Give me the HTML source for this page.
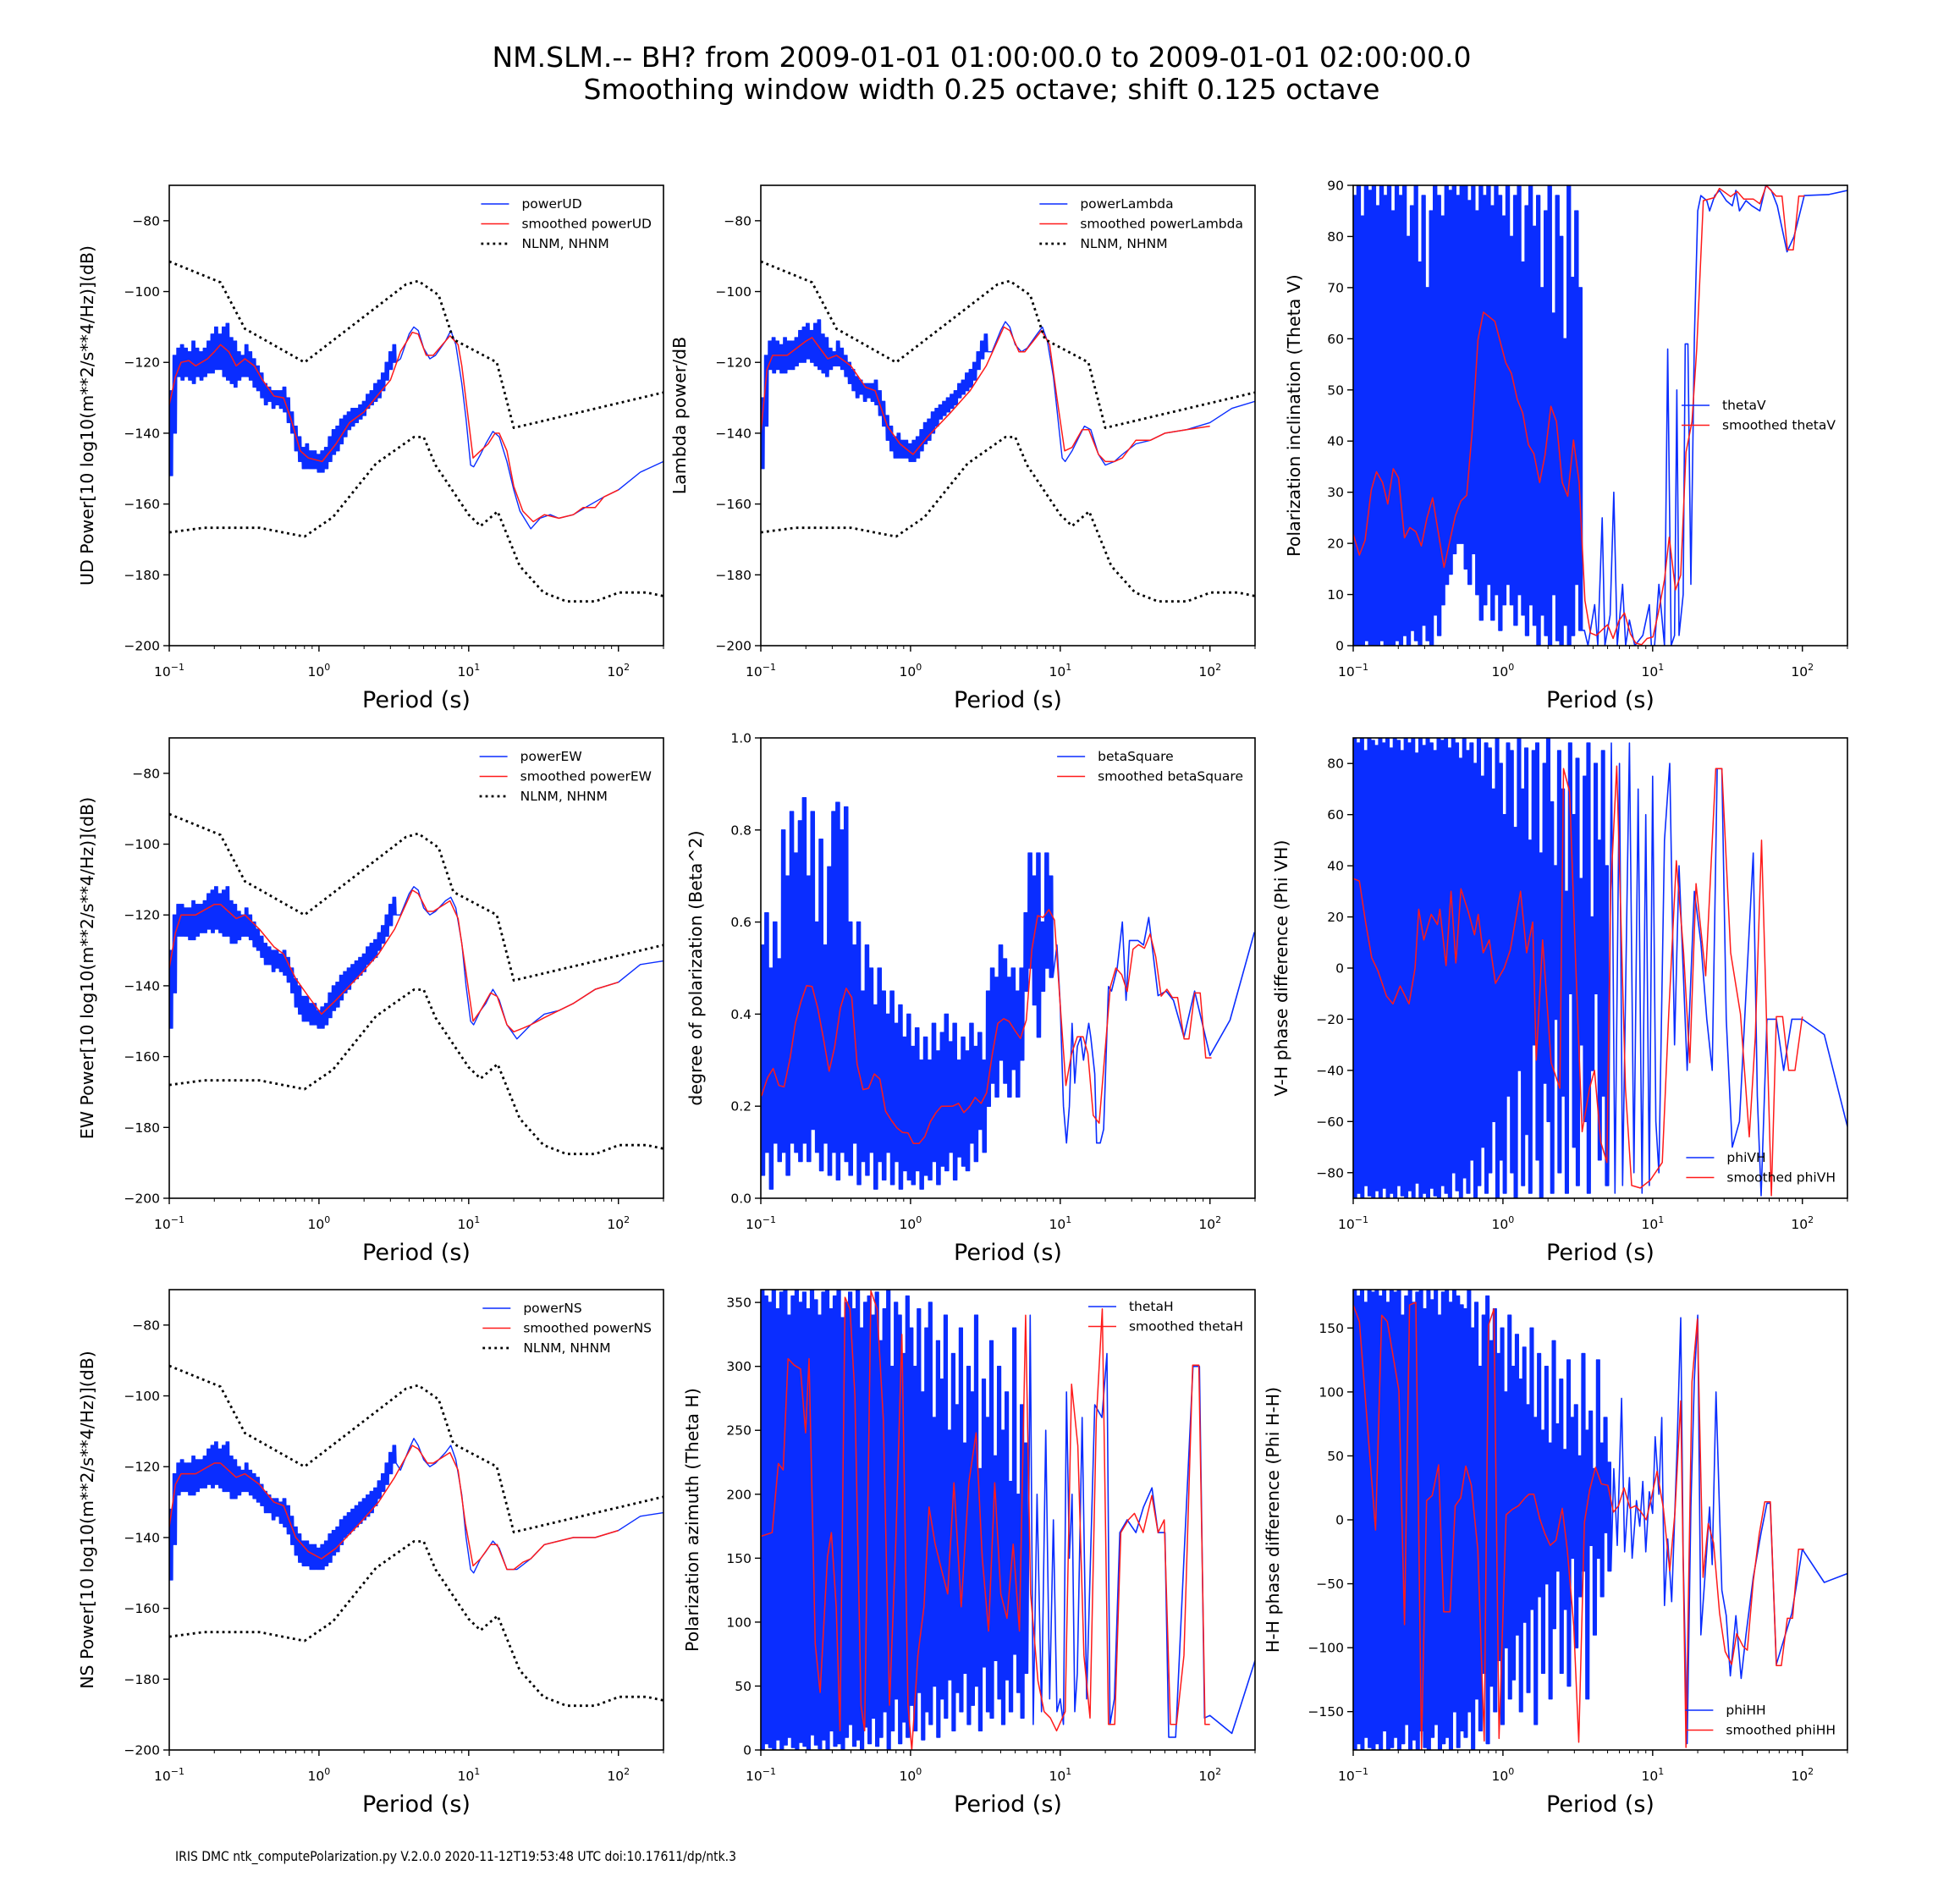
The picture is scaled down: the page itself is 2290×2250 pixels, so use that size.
<!DOCTYPE html>
<html><head><meta charset="utf-8"><title>Polarization</title>
<style>html,body{margin:0;padding:0;background:#fff;}svg{display:block;font-family:"DejaVu Sans","Liberation Sans",sans-serif;}</style>
</head><body>
<svg id="fig" xmlns="http://www.w3.org/2000/svg" width="2290" height="2250" viewBox="0 0 2290 2250">
<rect x="0" y="0" width="2290" height="2250" fill="#fff"/>
<text x="1160" y="79" font-size="33" text-anchor="middle">NM.SLM.-- BH? from 2009-01-01 01:00:00.0 to 2009-01-01 02:00:00.0</text>
<text x="1160" y="117" font-size="33" text-anchor="middle">Smoothing window width 0.25 octave; shift 0.125 octave</text>
<text x="207" y="2199" font-size="16" textLength="663" lengthAdjust="spacingAndGlyphs">IRIS DMC ntk_computePolarization.py V.2.0.0 2020-11-12T19:53:48 UTC doi:10.17611/dp/ntk.3</text>
</svg>
<script>
// ---------- noise models ----------
const nhnmP=[0.1,0.22,0.32,0.8,3.8,4.6,6.3,7.9,15.4,20,200];
const nhnmV=[-91.5,-97.4,-110.5,-120,-98,-97,-101,-113.5,-120,-138.5,-128.5];
const nlnmP=[0.1,0.17,0.4,0.8,1.24,2.4,4.3,5,6,10,12,15.6,21.9,31.6,45,70,101,154,200];
const nlnmV=[-168,-166.7,-166.7,-169.2,-163.7,-148.6,-141.1,-141.1,-149,-163,-166.2,-162.1,-177.5,-185,-187.5,-187.5,-185,-185,-186];

// ---------- UD ----------
const udSP=[0.1,0.11,0.12,0.135,0.15,0.18,0.2,0.22,0.25,0.28,0.32,0.37,0.42,0.5,0.58,0.65,0.75,0.85,1.05,1.3,1.6,2,2.5,3,3.5,4.2,4.6,5.2,5.8,7.5,8.5,9,10.7,12,13.5,15,16,18,20,23,27,32,40,50,58,70,80,100];
const udSV=[-132,-124,-120,-119.5,-121,-119,-117,-115,-117,-121,-119,-121,-125,-129.5,-130,-136,-145,-147,-148,-143,-137,-134,-129,-125,-117,-111.5,-112,-118,-118,-112.5,-115,-121,-147,-145,-143,-140,-140,-145,-155,-162,-165,-163,-164,-163,-161,-161,-158,-156];
const udHi=[-128,-118,-116,-115,-116,-117,-114,-116,-117,-116,-114,-112,-110,-112,-110,-109,-113,-114,-117,-118,-115,-117,-119,-121,-123,-126,-127,-128,-128,-128,-127,-130,-134,-138,-141,-144,-143,-145,-145,-146,-145,-144,-141,-139,-138,-136,-135,-134,-133,-133,-132,-131,-129,-128,-126,-125,-123,-120,-117,-115];
const udLo=[-152,-140,-124,-125,-124,-125,-126,-124,-125,-124,-123,-123,-122,-122,-124,-125,-126,-127,-125,-124,-124,-125,-127,-128,-130,-132,-131,-133,-132,-133,-134,-137,-140,-145,-148,-150,-150,-150,-150,-151,-151,-150,-148,-146,-145,-143,-141,-139,-138,-137,-136,-135,-133,-132,-131,-130,-128,-125,-122,-120];
const udTP=[3.5,4.0,4.3,4.6,5.0,5.5,6,7,7.6,8.2,9,9.6,10.3,10.8,12,13,14.5,16,18,20,22,26,30,35,40,50,60,80,100,140,200];
const udTV=[-119,-112,-110,-111,-116,-119,-118,-114,-111,-115,-126,-136,-149,-149.5,-146,-143,-139.5,-141,-148,-156,-162,-167,-164,-163,-164,-163,-161,-158,-156,-151,-148];

// ---------- shared smoothed period grid for Lambda / EW / NS ----------
const psP=[0.1,0.11,0.12,0.15,0.2,0.22,0.28,0.32,0.4,0.5,0.58,0.7,0.85,1.04,1.3,1.87,2.5,3.2,4.2,4.6,5.3,5.8,7.5,8.5,9.5,10.7,12,14,15.5,18,20,23,26,32,40,50,70,100];
// Lambda
const lamSV=[-140,-122,-118,-118,-114,-113,-119,-118,-121,-127,-128,-138,-143,-146,-141,-134,-128,-121,-110,-111,-117,-117,-111,-115,-130,-145,-144,-139,-139,-146,-148,-148,-147,-142,-142,-140,-139,-138];
const lamHi=[-130,-118,-114,-113,-114,-115,-113,-114,-114,-113,-111,-110,-109,-111,-109,-108,-112,-113,-116,-117,-114,-116,-118,-120,-122,-124,-125,-126,-126,-126,-125,-128,-131,-135,-138,-141,-140,-142,-142,-143,-142,-141,-139,-137,-136,-134,-133,-132,-131,-130,-129,-128,-126,-125,-123,-122,-120,-117,-114,-112];
const lamLo=[-150,-138,-122,-123,-122,-123,-123,-122,-122,-121,-120,-120,-119,-120,-121,-122,-123,-124,-122,-121,-121,-122,-124,-126,-128,-130,-129,-131,-130,-131,-132,-135,-138,-142,-145,-147,-147,-147,-147,-148,-148,-147,-145,-143,-142,-140,-138,-136,-135,-134,-133,-132,-130,-129,-128,-127,-125,-122,-119,-117];
const lamTP=[3.5,4.0,4.3,4.6,5.0,5.5,6,7,7.6,8.2,9,9.6,10.3,10.8,12,13,14.5,16,18,20,23,26,32,40,50,70,100,140,200];
const lamTV=[-117,-111,-108.5,-110,-115,-117,-116,-112,-110,-114,-124,-135,-147,-148,-145,-142,-138,-139,-146,-149,-148,-146,-143,-142,-140,-139,-137,-133,-131];
// EW
const ewSV=[-135,-125,-120,-120,-117,-117,-121,-120,-124,-129,-131,-138,-143,-148,-144,-137,-131,-124,-113,-114,-119,-119,-116,-121,-135,-150,-147,-142,-143,-151,-153,-152,-151,-149,-147,-145,-141,-139];
const ewHi=[-130,-120,-117,-117,-118,-118,-116,-117,-117,-116,-114,-113,-112,-114,-113,-112,-116,-117,-119,-120,-118,-120,-122,-124,-126,-128,-129,-130,-130,-131,-130,-132,-135,-138,-140,-143,-143,-145,-145,-147,-146,-145,-142,-140,-139,-137,-136,-135,-134,-133,-132,-131,-129,-128,-127,-125,-123,-120,-117,-115];
const ewLo=[-152,-142,-126,-126,-126,-127,-127,-126,-125,-125,-124,-125,-124,-125,-126,-126,-128,-128,-127,-126,-126,-127,-129,-130,-132,-134,-134,-136,-135,-136,-137,-139,-142,-146,-148,-150,-150,-151,-151,-152,-152,-151,-149,-147,-146,-144,-142,-141,-139,-138,-137,-136,-134,-133,-132,-130,-128,-126,-123,-120];
const ewTP=[3.5,4.0,4.3,4.6,5.0,5.5,6,7,7.6,8.2,9,9.6,10.3,10.8,12,13,14.5,16,18,21,26,32,40,50,70,100,140,200];
const ewTV=[-120,-114,-112,-113,-118,-120,-119,-116,-115,-118,-128,-140,-150,-151,-147,-145,-141,-144,-151,-155,-151,-148,-147,-145,-141,-139,-134,-133];
// NS
const nsSV=[-137,-125,-122,-122,-119,-119,-123,-122,-125,-130,-131,-140,-144,-146,-143,-136,-130,-123,-114,-115,-119,-119,-116,-121,-136,-148,-146,-142,-142,-149,-149,-147,-146,-142,-141,-140,-140,-138];
const nsHi=[-132,-122,-119,-118,-119,-119,-117,-118,-118,-117,-115,-114,-113,-115,-114,-113,-117,-118,-120,-121,-119,-121,-122,-123,-125,-127,-128,-129,-129,-130,-129,-131,-134,-137,-139,-141,-141,-142,-142,-143,-142,-141,-139,-138,-137,-135,-134,-133,-132,-131,-130,-129,-128,-127,-126,-124,-122,-119,-116,-114];
const nsLo=[-152,-142,-128,-127,-127,-128,-128,-127,-126,-126,-125,-126,-125,-126,-127,-127,-129,-129,-128,-127,-127,-128,-129,-130,-131,-133,-133,-135,-134,-136,-137,-139,-142,-145,-147,-148,-148,-149,-149,-149,-149,-148,-147,-145,-144,-142,-140,-139,-138,-137,-136,-135,-134,-133,-131,-129,-127,-125,-122,-119];
const nsTP=[3.5,4.0,4.3,4.6,5.0,5.5,6,7,7.6,8.2,9,9.6,10.3,10.8,12,13,14.5,16,18,21,26,32,40,50,70,100,140,200];
const nsTV=[-121,-115,-112,-114,-118,-120,-119,-116,-114,-118,-128,-140,-149,-150,-146,-144,-141,-143,-149,-149,-146,-142,-141,-140,-140,-138,-134,-133];

// ---------- thetaV ----------
const tvSP=[0.1,0.11,0.12,0.132,0.143,0.157,0.17,0.185,0.201,0.22,0.239,0.262,0.285,0.31,0.339,0.404,0.481,0.524,0.573,0.623,0.681,0.741,0.883,1.045,1.14,1.245,1.355,1.48,1.61,1.76,1.91,2.09,2.28,2.49,2.71,2.96,3.23,3.53,3.84,4.2,5.0,5.44,5.96,6.48,7.1,7.72,8.44,9.19,10.05,10.9,12.0,12.9,14.2,15.4,16.7,18.3,19.7,21.8,25.9,27.9,33.2,36.7,40.6,47.1,52.0,57.5,66.8,73.1,79.5,86.9,94.6,103.5];
const tvSV=[21.8,17.7,20.6,30.4,34,31.9,27.7,34.6,32.8,21.1,23.1,22.3,19.5,24.8,28.9,15.3,25.4,28.3,29.4,42,59.8,65.2,63.4,55.3,53.2,48.2,45.5,39.3,37.5,31.9,37.2,46.8,43.8,31.9,29.2,40.2,31.9,8.8,2.5,2,4.1,1.4,4.9,6.4,2.3,0.5,0.2,1.4,1.7,6.4,12.9,21.2,10.9,13.8,37.8,43.8,58,87,87.6,89.4,87.8,88.8,87.3,87.3,86.4,90,87.9,87.9,77.4,77.4,87.9,87.9];
const tvHi=[88,90,84,90,89,90,86,90,88,90,85,90,88,90,80,86,90,75,88,70,85,90,88,84,90,89,90,88,90,90,87,90,85,90,88,90,86,90,88,84,90,80,88,90,75,86,90,82,88,70,85,90,65,88,80,60,90,72,85,70];
const tvLo=[0,0,0,1,0,0,0,1,0,0,0,1,0,2,0,3,1,0,4,1,0,6,2,8,12,14,18,20,20,15,12,18,10,5,8,12,5,10,3,8,12,8,4,10,6,2,8,4,0,6,2,0,10,1,0,4,0,2,12,3];
const tvTP=[3.5,3.7,4.1,4.3,4.6,4.8,5.2,5.5,5.8,6.3,6.6,7,7.6,8.6,9.5,9.8,10.3,11,12,12.6,13.3,14,14.5,15,16,16.5,17.2,18,19,20,21,23,24,26,28,31,34,36,38,42,46,52,57,62,68,79,88,103,150,200];
const tvTV=[3,0,8,0,25,0,6,30,0,12,0,5,0,2,8,0,0,12,0,58,0,2,50,2,10,59,59,12,60,85,88,87,85,88,89,87,86,89,85,87,86,85,90,89,86,77,80,88,88.2,89];

// ---------- betaSquare ----------
const bsSP=[0.101,0.111,0.121,0.132,0.143,0.157,0.170,0.185,0.202,0.220,0.240,0.262,0.286,0.311,0.340,0.372,0.405,0.440,0.482,0.524,0.573,0.624,0.682,0.742,0.811,0.883,0.962,1.045,1.14,1.245,1.355,1.48,1.61,1.91,2.09,2.27,2.48,2.70,2.96,3.22,3.52,3.83,4.19,4.56,4.99,5.42,5.93,6.46,7.06,7.69,8.40,9.15,10.0,10.9,11.9,13.0,14.2,15.3,16.6,18.2,21.6,23.5,25.7,28.0,30.6,33.3,36.5,39.8,43.4,47.2,51.6,56.1,60.8,67.2,72.4,79.1,86.1,93.7,102.5];
const bsSV=[.222,.262,.282,.245,.242,.305,.38,.426,.462,.46,.413,.347,.276,.328,.413,.456,.436,.291,.236,.239,.27,.259,.189,.17,.153,.143,.142,.119,.119,.134,.166,.186,.2,.2,.206,.186,.199,.219,.206,.229,.314,.38,.39,.384,.364,.347,.387,.541,.614,.61,.627,.604,.42,.245,.314,.351,.351,.314,.18,.163,.459,.5,.486,.449,.541,.551,.543,.574,.525,.439,.454,.436,.436,.346,.346,.446,.446,.305,.305];
const bsHi=[.55,.62,.5,.6,.52,.8,.7,.84,.75,.82,.87,.7,.84,.6,.78,.55,.72,.84,.86,.8,.85,.6,.55,.6,.45,.55,.5,.42,.5,.45,.4,.45,.38,.42,.35,.4,.33,.37,.3,.35,.3,.38,.32,.36,.4,.34,.38,.3,.35,.32,.38,.33,.36,.3,.45,.5,.48,.55,.52,.48,.5,.45,.5,.62,.75,.7,.75,.6,.75,.7];
const bsLo=[.05,.1,.02,.12,.08,.1,.05,.12,.1,.08,.12,.08,.15,.1,.06,.12,.05,.1,.04,.1,.08,.05,.12,.03,.08,.05,.1,.02,.08,.04,.1,.03,.08,.02,.06,.04,.03,.06,.02,.05,.04,.08,.03,.07,.06,.1,.04,.09,.07,.06,.12,.08,.15,.1,.2,.25,.22,.3,.25,.22,.28,.22,.3,.45,.5,.42,.35,.45,.5,.48];
const bsTP=[9.5,10,10.5,11,11.5,12,12.5,13,13.7,14.3,15,15.5,16,17,17.5,18.5,19.5,21,22,24,26,27.5,29,33,36,39,45,51,57,67,79,100,136,198];
const bsTV=[.55,.42,.2,.12,.2,.38,.25,.33,.35,.3,.35,.38,.35,.27,.12,.12,.15,.46,.45,.5,.6,.43,.56,.56,.55,.61,.44,.45,.43,.35,.45,.31,.387,.578];

// ---------- phiVH ----------
const pvSP=[0.1,0.11,0.121,0.133,0.146,0.167,0.184,0.206,0.236,0.259,0.274,0.296,0.332,0.365,0.379,0.417,0.45,0.485,0.524,0.587,0.646,0.684,0.738,0.811,0.892,1.02,1.12,1.31,1.44,1.58,1.67,1.84,2.10,2.40,2.54,2.79,3.07,3.38,3.79,4.09,4.50,4.95,5.24,5.76,6.58,7.24,8.27,9.62,11.6,12.8,14.4,16.1,17.7,19.5,22.6,26.4,29.0,33.2,38.6,44.2,48.5,53.4,62.1,67.0,73.8,81.1,89.2,100];
const pvSV=[35,34,18,4,-1,-11,-14,-7,-14,0,23,11,21,17,23,1,30,2,31,22,13,21,6,11,-6,0,7,30,6,18,-36,11,-37,-47,78,69,0,-64,-47,-40,-68,-76,30,79,-47,-85,-86,-83,-76,-18,42,6,-37,33,-3,78,78,6,-18,-66,-27,50,-89,-19,-19,-40,-40,-19];
const pvHi=[90,88,90,85,90,89,87,90,88,90,86,90,89,85,90,88,90,84,90,87,90,88,85,90,89,90,86,90,88,82,90,85,88,80,90,75,88,86,70,90,80,60,88,85,55,90,70,86,50,85,88,45,80,90,65,40,85,70,30,88,60,82,35,75,88,20,80,50,85,40];
const pvLo=[-90,-88,-90,-85,-89,-90,-87,-90,-86,-90,-88,-90,-85,-89,-90,-87,-90,-84,-90,-88,-90,-86,-89,-90,-85,-88,-90,-80,-87,-90,-82,-88,-75,-90,-85,-70,-88,-80,-60,-90,-75,-88,-50,-80,-90,-40,-85,-65,-88,-30,-75,-90,-45,-60,-88,-20,-80,-50,-88,-10,-70,-85,-30,-60,-88,-40,-10,-75,-50,-85];
const pvTP=[5.3,5.6,6,6.3,7,7.5,8,8.5,9,9.5,10,10.5,11,12,13,14,15,17,19,21,23,25,27,29,31,34,38,42,47,50,53,58,67,75,85,100,140,200];
const pvTV=[88,-88,80,-85,88,-80,70,-88,60,-85,75,-60,-80,50,80,-30,40,-40,30,10,-20,-40,78,78,-20,-70,-60,-10,45,-50,-89,-20,-20,-40,-20,-20,-26,-62];

// ---------- thetaH ----------
const thSP=[0.1,0.119,0.131,0.141,0.152,0.167,0.184,0.199,0.210,0.231,0.249,0.279,0.296,0.319,0.338,0.365,0.394,0.425,0.467,0.494,0.544,0.598,0.658,0.724,0.796,0.875,0.962,1.02,1.12,1.23,1.33,1.46,1.61,1.77,1.95,2.18,2.45,2.74,3.01,3.32,3.65,4.01,4.41,4.85,5.34,5.87,6.34,7.10,7.81,8.59,9.45,10.8,11.9,13.1,14.4,15.8,17.4,19.1,21.0,23.1,25.4,28.5,31.3,35.8,40.9,45.0,49.5,54.4,59.8,67.0,76.6,84.3,92.7,100];
const thSV=[167,170,224,219,306,301,298,248,306,83,45,151,170,112,15,354,345,277,35,15,359,345,258,35,161,325,35,0,74,112,190,161,141,122,209,112,209,248,151,93,209,122,103,161,93,340,122,54,30,25,15,30,286,238,74,25,258,345,20,20,170,180,185,170,199,170,180,20,20,74,301,301,20,20];
const thHi=[360,355,350,360,345,358,360,340,355,360,350,358,345,360,352,340,358,360,345,355,360,338,350,358,345,360,330,350,355,340,358,320,345,360,300,350,340,310,355,330,300,345,280,330,350,260,320,290,340,250,310,270,330,240,300,280,340,220,290,260,320,230,300,250,280,210,330,200,270,240];
const thLo=[0,5,2,0,8,0,4,10,2,0,6,3,0,12,4,1,8,0,15,3,5,0,10,20,3,8,0,18,5,25,3,10,30,0,15,40,5,22,10,35,15,45,8,30,20,50,10,40,25,55,15,45,30,60,20,35,50,15,65,30,25,70,40,20,55,30,75,45,25,60];
const thTP=[6.3,6.6,7,7.5,8,8.5,9,9.5,10,10.5,11,11.5,12,12.5,13,14,15,17,19,20.5,21.5,23,25,28,32,36,41,45,50,53,59,67,77,85,92,100,140,200];
const thTV=[340,20,200,30,250,40,180,30,40,20,280,150,200,30,60,260,40,270,260,310,20,40,170,180,170,190,205,170,170,10,10,150,300,300,25,27,13,70];

// ---------- phiHH ----------
const phSP=[0.1,0.110,0.141,0.155,0.169,0.202,0.220,0.238,0.262,0.286,0.309,0.337,0.372,0.402,0.443,0.480,0.522,0.565,0.615,0.679,0.750,0.800,0.871,0.942,1.05,1.15,1.27,1.40,1.49,1.61,1.76,1.91,2.07,2.26,2.49,2.69,2.97,3.21,3.50,3.79,4.15,4.55,5.02,5.47,5.92,6.44,7.06,7.69,8.38,9.06,9.80,10.7,11.8,13.0,14.1,15.4,16.7,18.3,19.9,21.7,23.5,25.5,28.0,30.5,33.7,36.4,40.2,42.9,47.0,51.5,56.1,61.1,67.0,72.4,79.4,85.9,94.2,102.6];
const phSV=[168,155,-8,160,155,101,-82,168,170,-180,15,19,43,-72,-72,11,17,42,27,-23,-173,152,165,-171,4,8,11,17,20,20,1,-11,-20,-16,9,-23,-83,-174,-2,23,41,28,27,6,11,25,9,11,6,0,17,38,9,-40,6,93,-178,108,157,-45,-3,-18,-73,-103,-113,-89,-99,-102,-48,-11,14,14,-114,-114,-77,-77,-23,-23];
const phHi=[180,175,180,170,180,178,180,175,180,170,180,178,180,160,175,180,170,178,180,165,180,172,180,160,178,180,170,180,175,168,165,180,150,170,120,160,175,140,165,130,150,100,160,120,145,110,135,90,150,80,130,70,120,60,140,75,110,55,125,80,90,50,130,70,85,40,125,60,80,45];
const phLo=[-180,-175,-180,-170,-178,-180,-175,-180,-165,-180,-178,-170,-180,-175,-160,-180,-172,-180,-165,-178,-180,-170,-160,-180,-175,-170,-180,-150,-178,-165,-170,-150,-180,-140,-165,-120,-175,-130,-150,-110,-160,-100,-140,-125,-90,-150,-80,-135,-70,-160,-60,-120,-50,-140,-85,-40,-120,-70,-130,-30,-100,-60,-40,-140,-20,-90,-30,-60,-10,-40];
const phTP=[5.5,5.8,6.2,6.5,7,7.3,7.8,8.2,8.6,9,9.5,10,10.4,11,11.5,12,12.6,13.4,14.5,15.4,16,17,18,19,20,21,22.5,24,25,26.5,29,31,33,36,39,42,47,53,58,61,67,85,100,140,200];
const phTV=[40,-20,95,-25,33,-30,15,-5,30,-25,22,5,65,20,80,-67,-15,-64,50,158,-30,-175,10,110,160,-90,-40,10,-35,100,-55,-75,-122,-75,-124,-90,-45,-10,13,13,-113,-73,-23,-49,-42];

// ---------- tick label arrays ----------
const psdTicks=[-200,-180,-160,-140,-120,-100,-80];
const tvTicks=[0,10,20,30,40,50,60,70,80,90];
const bsTicks=[0,0.2,0.4,0.6,0.8,1.0];
const pvTicks=[-80,-60,-40,-20,0,20,40,60,80];
const thTicks=[0,50,100,150,200,250,300,350];
const phTicks=[-150,-100,-50,0,50,100,150];
const xDecades=[-1,0,1,2];

// ---------- drawing ----------
const NS_='http://www.w3.org/2000/svg';
const svg=document.getElementById('fig');
const COLS=[200,899,1599], ROWS=[219,872,1524], W=584, H=544;
const XMIN=0.1, XMAX=200;
const BLUE='#0a2dff', RED='#ff1a1a';
function mk(tag,attrs,parent){const e=document.createElementNS(NS_,tag);for(const k in attrs)e.setAttribute(k,attrs[k]);(parent||svg).appendChild(e);return e;}
function fmtTick(v,dec){let s=dec?v.toFixed(1):String(v);return s.replace('-','\u2212');}

function panel(cfg){
  const L=COLS[cfg.col], T=ROWS[cfg.row];
  const xs=p=>L+W*(Math.log10(p)-Math.log10(XMIN))/(Math.log10(XMAX)-Math.log10(XMIN));
  const ys=v=>T+H*(cfg.ymax-v)/(cfg.ymax-cfg.ymin);
  const g=mk('g',{});
  
  
  const cid='clip-'+cfg.name;
  const cp=mk('clipPath',{id:cid},g);
  mk('rect',{x:L,y:T,width:W,height:H},cp);
  const plot=mk('g',{'clip-path':'url(#'+cid+')'},g);
  
  
  cfg.series.forEach(s=>{
    let pts=[];
    if(s.hi){
      const n=s.hi.length, step=Math.log10(s.pEnd/XMIN)/n, k=s.k||4;
      for(let i=0;i<n;i++){
        for(let j=0;j<k;j++){
          const p1=XMIN*Math.pow(10,(i+j/k)*step), p2=XMIN*Math.pow(10,(i+(j+0.5)/k)*step);
          pts.push([xs(p1),ys(s.hi[i])]);pts.push([xs(p2),ys(s.lo[i])]);
        }
      }
      for(let i=0;i<s.P.length;i++)pts.push([xs(s.P[i]),ys(s.V[i])]);
    } else {
      for(let i=0;i<s.P.length;i++)pts.push([xs(s.P[i]),ys(s.V[i])]);
    }
    const a={points:pts.map(q=>q[0].toFixed(1)+','+q[1].toFixed(1)).join(' '),fill:'none',stroke:s.color,'stroke-width':s.w||1.4,'stroke-linejoin':'round'};
    if(s.dash){a['stroke-dasharray']=s.dash;}
    const pl=mk('polyline',a,plot);
    
    
  });
  const fr=mk('rect',{x:L,y:T,width:W,height:H,fill:'none',stroke:'#000','stroke-width':1.6},g);
  
  
  const xa=mk('g',{},g);
  
  
  xDecades.forEach(d=>{
    const x=xs(Math.pow(10,d));
    mk('line',{x1:x,y1:T+H,x2:x,y2:T+H+7,stroke:'#000','stroke-width':1.4},xa);
    const t=mk('text',{x:x,y:T+H+36,'font-size':15.5,'text-anchor':'middle'},xa);
    
    
    t.appendChild(document.createTextNode('10'));
    const sp=mk('tspan',{'font-size':11,dy:-7},t);
    sp.textContent=fmtTick(d,false);
    for(let m=2;m<=9;m++){const p=m*Math.pow(10,d);if(p<=XMAX+1e-9){const xm=xs(p);mk('line',{x1:xm,y1:T+H,x2:xm,y2:T+H+4,stroke:'#000','stroke-width':1},xa);}}
  });
  const xl=mk('text',{x:L+W/2,y:T+H+73,'font-size':27,'text-anchor':'middle'},xa);
  
  
  xl.textContent='Period (s)';
  const ya=mk('g',{},g);
  
  
  cfg.ticks.forEach(v=>{
    const y=ys(v);
    mk('line',{x1:L-7,y1:y,x2:L,y2:y,stroke:'#000','stroke-width':1.4},ya);
    const t=mk('text',{x:L-11,y:y+5.5,'font-size':15.5,'text-anchor':'end'},ya);
    
    
    t.textContent=fmtTick(v,cfg.dec);
  });
  const yl=mk('text',{x:cfg.ylx,y:T+H/2,'font-size':20.5,'text-anchor':'middle',transform:'rotate(-90 '+cfg.ylx+' '+(T+H/2)+')'},ya);
  
  
  yl.textContent=cfg.ylabel;
  const lg=mk('g',{},g);
  
  
  const texts=[];
  cfg.legend.forEach((e,i)=>{
    const y=T+cfg.legY+i*23.5;
    const t=mk('text',{x:0,y:y+5,'font-size':15.5},lg);
    
    
    t.textContent=e.label;
    texts.push([t,e,y]);
  });
  let maxW=0;texts.forEach(q=>{maxW=Math.max(maxW,q[0].getComputedTextLength());});
  const tx=L+W-14-maxW;
  texts.forEach(q=>{
    q[0].setAttribute('x',tx);
    const a={x1:tx-48,y1:q[2],x2:tx-15,y2:q[2],stroke:q[1].color,'stroke-width':q[1].w||1.6};
    if(q[1].dash)a['stroke-dasharray']=q[1].dash;
    const ln=mk('line',a,lg);
    
    
  });
}

const DOT='2.8 4.2';
function psdPanel(name,row,ylabel,hi,lo,tP,tV,sP,sV,rawLbl,smLbl){
  panel({name,col:0,row,ymin:-200,ymax:-70,ticks:psdTicks,ylabel,ylx:110,legY:22,
    series:[
      {name:name+'-raw-line',hi,lo,pEnd:3.3,k:4,P:tP,V:tV,color:BLUE,w:1.4},
      {name:name+'-smoothed-line',P:sP,V:sV,color:RED,w:1.5},
      {name:'nhnm-line',P:nhnmP,V:nhnmV,color:'#000',w:2.8,dash:DOT},
      {name:'nlnm-line',P:nlnmP,V:nlnmV,color:'#000',w:2.8,dash:DOT}],
    legend:[{label:rawLbl,color:BLUE},{label:smLbl,color:RED},{label:'NLNM, NHNM',color:'#000',w:2.8,dash:DOT}]});
}
psdPanel('ud-power',0,'UD Power[10 log10(m**2/s**4/Hz)](dB)',udHi,udLo,udTP,udTV,udSP,udSV,'powerUD','smoothed powerUD');
psdPanel('ew-power',1,'EW Power[10 log10(m**2/s**4/Hz)](dB)',ewHi,ewLo,ewTP,ewTV,psP,ewSV,'powerEW','smoothed powerEW');
psdPanel('ns-power',2,'NS Power[10 log10(m**2/s**4/Hz)](dB)',nsHi,nsLo,nsTP,nsTV,psP,nsSV,'powerNS','smoothed powerNS');

panel({name:'lambda-power',col:1,row:0,ymin:-200,ymax:-70,ticks:psdTicks,ylabel:'Lambda power/dB',ylx:810,legY:22,
  series:[{name:'lambda-raw-line',hi:lamHi,lo:lamLo,pEnd:3.3,k:4,P:lamTP,V:lamTV,color:BLUE,w:1.4},
    {name:'lambda-smoothed-line',P:psP,V:lamSV,color:RED,w:1.5},
    {name:'nhnm-line',P:nhnmP,V:nhnmV,color:'#000',w:2.8,dash:DOT},
    {name:'nlnm-line',P:nlnmP,V:nlnmV,color:'#000',w:2.8,dash:DOT}],
  legend:[{label:'powerLambda',color:BLUE},{label:'smoothed powerLambda',color:RED},{label:'NLNM, NHNM',color:'#000',w:2.8,dash:DOT}]});

panel({name:'theta-v',col:2,row:0,ymin:0,ymax:90,ticks:tvTicks,ylabel:'Polarization inclination (Theta V)',ylx:1536,legY:260,
  series:[{name:'thetaV-line',hi:tvHi,lo:tvLo,pEnd:3.4,k:6,P:tvTP,V:tvTV,color:BLUE,w:1.6},
    {name:'smoothed-thetaV-line',P:tvSP,V:tvSV,color:RED,w:1.5}],
  legend:[{label:'thetaV',color:BLUE},{label:'smoothed thetaV',color:RED}]});

panel({name:'beta-square',col:1,row:1,ymin:0,ymax:1,ticks:bsTicks,dec:true,ylabel:'degree of polarization (Beta^2)',ylx:829,legY:22,
  series:[{name:'betaSquare-line',hi:bsHi,lo:bsLo,pEnd:9,k:5,P:bsTP,V:bsTV,color:BLUE,w:1.6},
    {name:'smoothed-betaSquare-line',P:bsSP,V:bsSV,color:RED,w:1.5}],
  legend:[{label:'betaSquare',color:BLUE},{label:'smoothed betaSquare',color:RED}]});

panel({name:'phi-vh',col:2,row:1,ymin:-90,ymax:90,ticks:pvTicks,ylabel:'V-H phase difference (Phi VH)',ylx:1521,legY:496,
  series:[{name:'phiVH-line',hi:pvHi,lo:pvLo,pEnd:5.1,k:5,P:pvTP,V:pvTV,color:BLUE,w:1.6},
    {name:'smoothed-phiVH-line',P:pvSP,V:pvSV,color:RED,w:1.5}],
  legend:[{label:'phiVH',color:BLUE},{label:'smoothed phiVH',color:RED}]});

panel({name:'theta-h',col:1,row:2,ymin:0,ymax:360,ticks:thTicks,ylabel:'Polarization azimuth (Theta H)',ylx:825,legY:20,
  series:[{name:'thetaH-line',hi:thHi,lo:thLo,pEnd:6.1,k:5,P:thTP,V:thTV,color:BLUE,w:1.6},
    {name:'smoothed-thetaH-line',P:thSP,V:thSV,color:RED,w:1.5}],
  legend:[{label:'thetaH',color:BLUE},{label:'smoothed thetaH',color:RED}]});

panel({name:'phi-hh',col:2,row:2,ymin:-180,ymax:180,ticks:phTicks,ylabel:'H-H phase difference (Phi H-H)',ylx:1511,legY:497,
  series:[{name:'phiHH-line',hi:phHi,lo:phLo,pEnd:5.3,k:5,P:phTP,V:phTV,color:BLUE,w:1.6},
    {name:'smoothed-phiHH-line',P:phSP,V:phSV,color:RED,w:1.5}],
  legend:[{label:'phiHH',color:BLUE},{label:'smoothed phiHH',color:RED}]});
</script>
</body></html>
